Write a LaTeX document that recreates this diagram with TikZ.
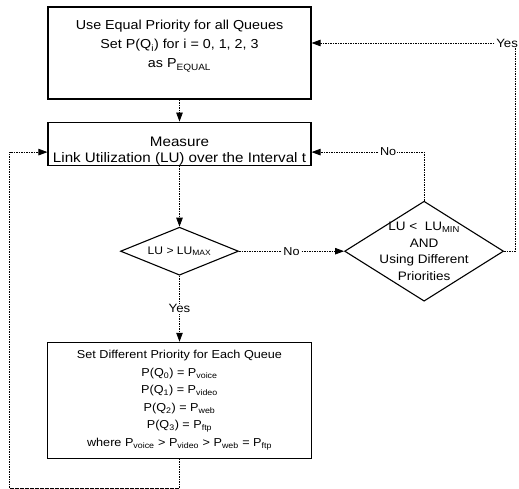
\documentclass[tikz,border=0pt]{standalone}
\usepackage{fontspec}
\setmainfont{Liberation Sans}[FakeStretch=1.1]
\usetikzlibrary{positioning, arrows.meta, shapes.geometric}

\begin{document}
\begin{tikzpicture}[
    x=1pt, y=-1pt,
    every node/.style={align=center},
    box/.style={draw, rectangle, line width=1.1pt, minimum width=263pt, inner sep=2pt},
    decision/.style={draw, diamond, line width=1.1pt, inner sep=0pt},
    arrow/.style={-{Triangle[length=9pt,width=6.5pt]}, line width=0.8pt, dash pattern=on 1.6pt off 0.9pt},
    lbl/.style={fill=white, inner sep=1pt, font=\fontsize{11.5}{13}\selectfont},
]
\useasboundingbox (0,0) rectangle (519,489);
% Start: all queues get the same priority
\node[box, minimum height=92pt, font=\fontsize{13}{19}\selectfont] (equal) at (179.5,53)
    {\raisebox{5pt}[0pt][0pt]{\begin{tabular}{@{}c@{}}Use Equal Priority for all Queues\\
     Set P(Q\textsubscript{i}) for i = 0, 1, 2, 3\\ as P\textsubscript{EQUAL}\end{tabular}}};
% Measurement
\node[box, minimum height=43pt, below=22pt of equal, font=\fontsize{13.8}{15.5}\selectfont] (measure)
    {\raisebox{-11.5pt}[0pt][0pt]{\begin{tabular}{@{}c@{}}Measure\\
     Link Utilization (LU) over the Interval t\end{tabular}}};
% Decisions
\node[decision, minimum width=118pt, minimum height=48pt, aspect=2.4, below=61pt of measure,
      font=\fontsize{11}{13}\selectfont] (lumax) {LU > LU\textsubscript{MAX}};
\node[decision, minimum width=159pt, minimum height=100pt, aspect=1.6, right=105pt of lumax,
      label={[align=center, font=\fontsize{12.3}{16.5}\selectfont]center:{LU <\ \ LU\textsubscript{MIN}\\ AND\\ Using Different\\ Priorities}}] (lumin) {};
% Different priorities
\node[box, minimum width=264pt, minimum height=116pt, below=66pt of lumax, font=\fontsize{11.5}{17.5}\selectfont] (diffprio)
    {Set Different Priority for Each Queue\\
     P(Q\textsubscript{0}) = P\textsubscript{voice}\\
     P(Q\textsubscript{1}) = P\textsubscript{video}\\
     P(Q\textsubscript{2}) = P\textsubscript{web}\\
     P(Q\textsubscript{3}) = P\textsubscript{ftp}\\
     where P\textsubscript{voice} > P\textsubscript{video} > P\textsubscript{web} = P\textsubscript{ftp}};
% Connectors
\draw[arrow] (equal) -- (measure);
\draw[arrow] (measure) -- (lumax);
\draw[arrow] (lumax) -- node[lbl, font=\fontsize{12}{14}\selectfont] {Yes} (diffprio);
\draw[arrow] (lumax) -- node[lbl] {No} (lumin);
\draw[arrow] (lumin.north) |- node[lbl, pos=0.66] {No} ([yshift=-8.5pt]measure.east);
\draw[arrow] (lumin.east) -- ++(11,0) |- node[lbl, pos=0.5, xshift=-8pt, font=\fontsize{12}{14}\selectfont] {Yes} ([yshift=10pt]equal.east);
\draw[arrow] (diffprio.south) -- ++(0,29.5) -- ++(-170,0) |- ([yshift=-8.5pt]measure.west);
\end{tikzpicture}
\end{document}
